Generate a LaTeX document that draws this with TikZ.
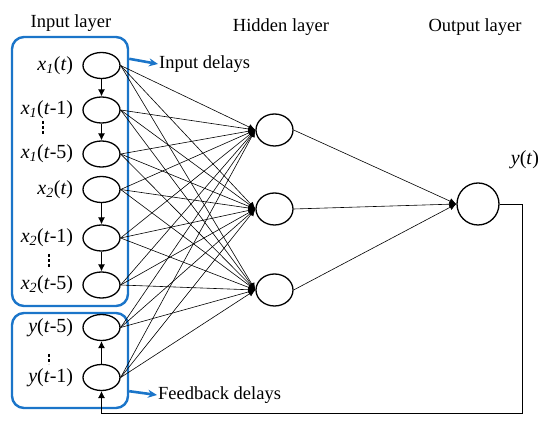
\documentclass[tikz,border=0pt]{standalone}
\usepackage{fontspec}
\setmainfont{Liberation Serif}
\usetikzlibrary{shapes.geometric, arrows.meta, positioning}
\definecolor{boxblue}{HTML}{1B75C9}
\tikzset{
  lbl/.style={font=\fontsize{18.5}{20}\selectfont, inner sep=1pt},
  var/.style={font=\fontsize{20}{22}\selectfont, inner sep=1pt},
  inode/.style={ellipse, draw, line width=1.3pt, minimum width=37pt, minimum height=26pt, inner sep=0pt},
  hnode/.style={inode, minimum height=32pt},
  onode/.style={inode, minimum width=42pt, minimum height=42pt},
  wire/.style={-{Latex[length=7pt,width=6pt]}, line width=0.6pt},
  delay/.style={-{Latex[length=7pt,width=7pt]}, line width=0.9pt},
  skip/.style={line width=1.8pt, dash pattern=on 3pt off 2pt},
  group/.style={draw=boxblue, line width=2.4pt, rounded corners=12pt, inner sep=0pt},
  tag/.style={-{Stealth[length=9pt,width=8pt]}, draw=boxblue, line width=2.6pt},
}
\newcommand{\xv}[2]{\textit{x}\textsubscript{\textit{#1}}(\textit{t}#2)}
\newcommand{\yv}[1]{\textit{y}(\textit{t}#1)}

\begin{document}
\begin{tikzpicture}[x=1pt, y=-1pt]
  \useasboundingbox (0,0) rectangle (550,427);
  % layer titles
  \node[lbl] (tin) at (71,23) {Input layer};
  \node[lbl] (thid) at (281,27) {Hidden layer};
  \node[lbl] (tout) at (475,27) {Output layer};
  % delay groups
  \node[group, minimum width=116pt, minimum height=269pt] (inbox) at (70,171.5) {};
  \node[group, minimum width=116pt, minimum height=95pt] (fbbox) at (70,360.5) {};
  % units
  \foreach \n/\y in {1/65.5, 2/110, 3/154, 4/189.5, 5/238, 6/285, 7/327.5, 8/377.5}
    \node[inode] (i\n) at (101.5,\y) {};
  \foreach \m/\y in {1/130, 2/209, 3/290}
    \node[hnode] (h\m) at (274.5,\y) {};
  \node[onode] (o) at (478,204) {};
  % unit labels
  \node[var, left=8pt of i1] (l1) {\xv{1}{}};
  \node[var, left=8pt of i2] (l2) {\xv{1}{-1}};
  \node[var, left=8pt of i3] (l3) {\xv{1}{-5}};
  \node[var, left=8pt of i4] (l4) {\xv{2}{}};
  \node[var, left=8pt of i5] (l5) {\xv{2}{-1}};
  \node[var, left=8pt of i6] (l6) {\xv{2}{-5}};
  \node[var, left=8pt of i7] (l7) {\yv{-5}};
  \node[var, left=8pt of i8] (l8) {\yv{-1}};
  \node[var] (ly) at (525,160) {\yv{}};
  % skipped taps
  \draw[skip] (43,121) -- (43,135);
  \draw[skip] (49,254) -- (49,268);
  \draw[skip] (49,354) -- (49,364);
  % tapped delay lines
  \draw[delay] (i1.south) -- (i2.north);
  \draw[delay] (i2.south) -- (i3.north);
  \draw[delay] (i4.south) -- (i5.north);
  \draw[delay] (i5.south) -- (i6.north);
  \draw[delay] (i8.north) -- (i7.south);
  % weights
  \foreach \n in {1,...,8}
    \foreach \m in {1,2,3}
      \draw[wire] (i\n.east) -- (h\m.west);
  \foreach \m in {1,2,3}
    \draw[wire] (h\m.east) -- (o.west);
  % feedback loop
  \coordinate (fb) at (522,413);
  \draw[delay, line width=0.7pt] (o.east) -- (fb |- o.east) -- (fb) -- (fb -| i8.south) -- (i8.south);
  % group tags
  \node[lbl, anchor=west] (tagin) at (158,64) {Input delays};
  \node[lbl, anchor=west] (tagfb) at (157,395) {Feedback delays};
  \draw[tag] ([yshift=-23pt]inbox.north east) -- (tagin.west);
  \draw[tag] ([yshift=18pt]fbbox.south east) -- (tagfb.west);
\end{tikzpicture}
\end{document}
